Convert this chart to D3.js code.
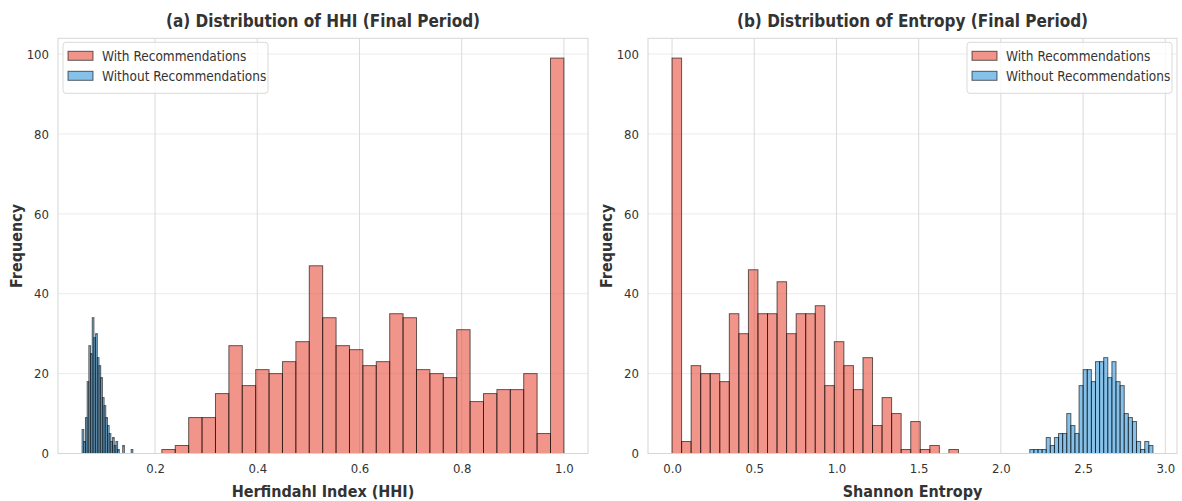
<!DOCTYPE html>
<html>
<head>
<meta charset="utf-8">
<script src="https://d3js.org/d3.v7.min.js"></script>
<style>
  body { margin: 0; background: #fff; }
  svg text { font-family: "DejaVu Sans Condensed", "DejaVu Sans", sans-serif; font-stretch: condensed; fill: #333; }
</style>
</head>
<body>
<div id="chart"></div>
<script>
// series labels
const seriesNames = ["With Recommendations", "Without Recommendations"];

// (a) HHI histograms, 30 bins each
const hhiWithRange = [0.2133, 1.0];
const hhiWithCounts = [1, 2, 9, 9, 15, 27, 17, 21, 20, 23, 28, 47, 34, 27, 26,
                       22, 23, 35, 34, 21, 20, 19, 31, 13, 15, 16, 16, 20, 5, 99];
const hhiWithoutRange = [0.0572, 0.1565];
const hhiWithoutCounts = [6, 3, 9, 18, 27, 25, 34, 29, 30, 24, 22, 19, 14, 12, 9,
                          7, 5, 3, 4, 2, 3, 1, 0, 0, 2, 0, 0, 0, 0, 1];

// (b) Entropy histograms, 30 bins each
const entWithRange = [0.0, 1.742];
const entWithCounts = [99, 3, 22, 20, 20, 18, 35, 30, 46, 35, 35, 43, 30, 35, 35,
                       37, 17, 28, 22, 16, 24, 7, 14, 10, 1, 8, 1, 2, 0, 1];
const entWithoutRange = [2.176, 2.925];
const entWithoutCounts = [1, 1, 1, 1, 4, 2, 4, 5, 5, 10, 7, 5, 17, 21, 21,
                          18, 23, 23, 24, 19, 23, 18, 17, 10, 9, 8, 3, 1, 3, 2];

const hhiTicks = [0.2, 0.4, 0.6, 0.8, 1.0];
const entTicks = [0, 0.5, 1.0, 1.5, 2.0, 2.5, 3.0];
const yTicks = [0, 20, 40, 60, 80, 100];

const W = 1182, H = 501;
const plotTop = 38.3, plotBottom = 453.5;
const colors = { with: "#e74c3c", without: "#3498db" };

const svg = d3.select("#chart").append("svg")
  .attr("width", W).attr("height", H);

function bins(range, counts) {
  const w = (range[1] - range[0]) / counts.length;
  return counts.map((c, i) => ({ x0: range[0] + i * w, x1: range[0] + (i + 1) * w, n: c }));
}

function panel(opt) {
  const lo = Math.min(opt.a.range[0], opt.b.range[0]);
  const hi = Math.max(opt.a.range[1], opt.b.range[1]);
  const pad = (hi - lo) * 0.05;
  const x = d3.scaleLinear().domain([lo - pad, hi + pad]).range([opt.left, opt.right]);
  const ymax = d3.max(opt.a.counts.concat(opt.b.counts)) * 1.05;
  const y = d3.scaleLinear().domain([0, ymax]).range([plotBottom, plotTop]);

  const g = svg.append("g");

  // grid
  g.append("g").selectAll("line").data(yTicks).join("line")
    .attr("x1", opt.left).attr("x2", opt.right)
    .attr("y1", d => y(d)).attr("y2", d => y(d))
    .attr("stroke", "#ebebeb").attr("stroke-width", 1);
  g.append("g").selectAll("line").data(opt.xTicks).join("line")
    .attr("y1", plotTop).attr("y2", plotBottom)
    .attr("x1", d => x(d)).attr("x2", d => x(d))
    .attr("stroke", "#dadada").attr("stroke-width", 1);

  // histograms: "with" drawn first, "without" on top
  [[opt.a, colors.with], [opt.b, colors.without]].forEach(([s, col]) => {
    g.append("g").selectAll("rect").data(bins(s.range, s.counts).filter(d => d.n > 0)).join("rect")
      .attr("x", d => x(d.x0))
      .attr("width", d => x(d.x1) - x(d.x0))
      .attr("y", d => y(d.n))
      .attr("height", d => y(0) - y(d.n))
      .attr("fill", col).attr("fill-opacity", 0.6)
      .attr("stroke", "#000").attr("stroke-opacity", 0.6).attr("stroke-width", 1);
  });

  // frame
  g.append("rect")
    .attr("x", opt.left).attr("y", plotTop)
    .attr("width", opt.right - opt.left).attr("height", plotBottom - plotTop)
    .attr("fill", "none").attr("stroke", "#d6d6d6").attr("stroke-width", 1);

  // axes
  const xAxis = d3.axisBottom(x).tickValues(opt.xTicks).tickFormat(d3.format(".1f")).tickSize(0).tickPadding(10);
  const xa = g.append("g").attr("transform", `translate(0,${plotBottom})`).call(xAxis);
  const yAxis = d3.axisLeft(y).tickValues(yTicks).tickSize(0).tickPadding(9);
  const ya = g.append("g").attr("transform", `translate(${opt.left},0)`).call(yAxis);
  [xa, ya].forEach(a => {
    a.select(".domain").remove();
    a.selectAll("text").style("font-size", "13px").attr("fill", "#333");
  });

  const cx = (opt.left + opt.right) / 2;
  g.append("text").attr("x", cx).attr("y", 27)
    .attr("text-anchor", "middle").style("font-size", "17px").style("font-weight", "bold")
    .text(opt.title);
  g.append("text").attr("x", cx).attr("y", 497)
    .attr("text-anchor", "middle").style("font-size", "16px").style("font-weight", "bold")
    .text(opt.xLabel);
  g.append("text")
    .attr("transform", `translate(${opt.left - 36},${(plotTop + plotBottom) / 2}) rotate(-90)`)
    .attr("text-anchor", "middle").style("font-size", "16px").style("font-weight", "bold")
    .text("Frequency");

  // legend
  const lw = 205, lh = 51;
  const lx = opt.legendRight ? opt.right - 5 - lw : opt.left + 5;
  const ly = plotTop + 4;
  const lg = g.append("g").attr("transform", `translate(${lx},${ly})`);
  lg.append("rect").attr("width", lw).attr("height", lh).attr("rx", 3)
    .attr("fill", "#fff").attr("fill-opacity", 0.8).attr("stroke", "#d9d9d9");
  seriesNames.forEach((name, i) => {
    const row = lg.append("g").attr("transform", `translate(0,${9 + i * 20})`);
    row.append("rect").attr("x", 5).attr("y", 0).attr("width", 25).attr("height", 9)
      .attr("fill", i === 0 ? colors.with : colors.without).attr("fill-opacity", 0.6)
      .attr("stroke", "#000").attr("stroke-opacity", 0.6);
    row.append("text").attr("x", 39).attr("y", 10).style("font-size", "13.5px").text(name);
  });
}

panel({
  left: 58, right: 588,
  a: { range: hhiWithRange, counts: hhiWithCounts },
  b: { range: hhiWithoutRange, counts: hhiWithoutCounts },
  xTicks: hhiTicks,
  title: "(a) Distribution of HHI (Final Period)",
  xLabel: "Herfindahl Index (HHI)",
  legendRight: false
});

panel({
  left: 648, right: 1177,
  a: { range: entWithRange, counts: entWithCounts },
  b: { range: entWithoutRange, counts: entWithoutCounts },
  xTicks: entTicks,
  title: "(b) Distribution of Entropy (Final Period)",
  xLabel: "Shannon Entropy",
  legendRight: true
});
</script>
</body>
</html>
